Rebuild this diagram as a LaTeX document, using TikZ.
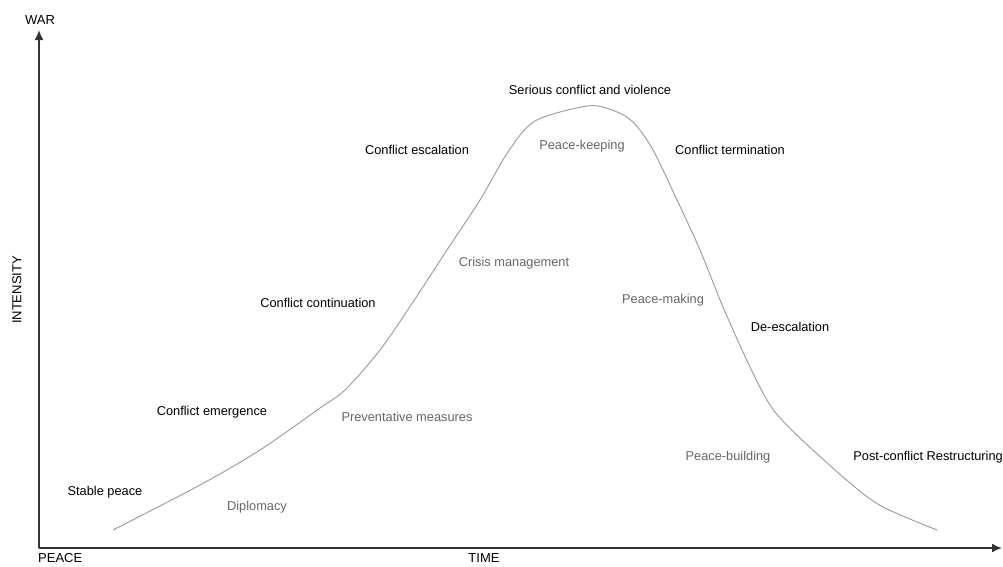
\documentclass[tikz,border=0pt]{standalone}
\usepackage{fontspec}
\setmainfont{Liberation Sans}
\usetikzlibrary{arrows.meta}
\tikzset{
  axis/.style={draw=black!80, line width=1.6pt, -{Latex[length=10pt,width=9pt]}},
  curveline/.style={draw=black!40, line width=0.9pt},
  stage/.style={text=black, font=\fontsize{12.8}{14}\selectfont, inner sep=0pt},
  action/.style={text=black!60, font=\fontsize{12.8}{14}\selectfont, inner sep=0pt},
  axlabel/.style={text=black, font=\fontsize{13}{15}\selectfont, inner sep=0pt},
}
\begin{document}
\begin{tikzpicture}[x=1pt,y=-1pt]
\useasboundingbox (0,0) rectangle (1003,566);
\coordinate (o) at (39,548);
\coordinate (top) at (39,30);
\coordinate (right) at (1002,548);
\draw[axis] (o) -- (top);
\draw[axis] (o) -- (right);
\node[axlabel] (war) at (40,20) {WAR};
\node[axlabel, anchor=west] (peace) at (38,558) {PEACE};
\node[axlabel] (time) at (484,558) {TIME};
\node[axlabel, rotate=90] (intensity) at (17,290) {INTENSITY};

\draw[curveline] plot[smooth, tension=0.5] coordinates {
 (113,530) (200,485) (260,450) (320,408) (345,390) (380,350) (413,302)
 (447,250) (480,200) (508,152) (535,121) (587,106) (612,110) (633,122) (653,150)
 (677,200) (700,250) (723,307) (750,367) (772,408) (800,438) (850,483)
 (883,507) (937,530)};

\node[stage] (serious) at (590,90) {Serious conflict and violence};
\node[stage] (escal) at (417,150) {Conflict escalation};
\node[stage] (termin) at (730,150) {Conflict termination};
\node[stage] (contin) at (318,303) {Conflict continuation};
\node[stage] (deesc) at (790,327) {De-escalation};
\node[stage] (emerg) at (212,412) {Conflict emergence};
\node[stage, anchor=east] (post) at (1003,457) {Post-conflict Restructuring};
\node[stage] (stable) at (105,492) {Stable peace};

\node[action] (keeping) at (582,146) {Peace-keeping};
\node[action] (crisis) at (514,263) {Crisis management};
\node[action] (making) at (663,300) {Peace-making};
\node[action] (prevent) at (407,417) {Preventative measures};
\node[action] (building) at (728,457) {Peace-building};
\node[action] (diplo) at (257,507) {Diplomacy};
\end{tikzpicture}
\end{document}
